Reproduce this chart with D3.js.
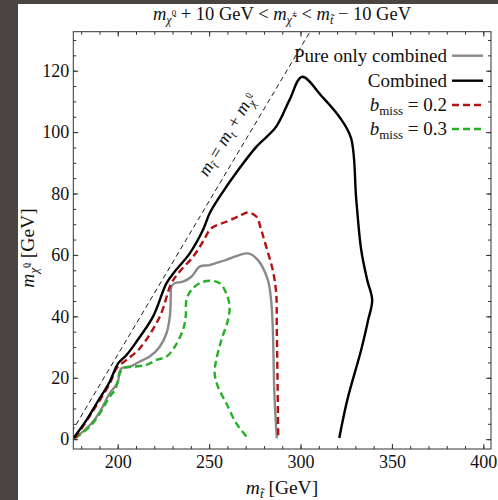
<!DOCTYPE html>
<html>
<head>
<meta charset="utf-8">
<script src="https://cdn.jsdelivr.net/npm/d3@7"></script>
<style>
  body { margin: 0; background: #fff; }
  svg { display: block; }
  text { font-family: "Liberation Serif", "DejaVu Serif", serif; fill: #111; }
</style>
</head>
<body>
<svg id="chart" width="498" height="500"></svg>
<script>
// values (x = stop mass, y = neutralino mass, GeV)
const combinedX = [175.7, 183.0, 188.5, 195.7, 200.2, 204.8, 210.3, 219.3, 226.7, 231.2, 239.4, 246.6, 250.3, 255.8, 266.7, 275.8, 286.7, 294.0, 300.8, 311.9, 321.2, 327.6, 330.5, 333.2, 336.5, 339.2, 337.0, 333.2, 325.6, 321.2];
const combinedY = [0.3, 6.3, 11.7, 18.8, 24.7, 27.4, 31.8, 39.9, 50.8, 54.6, 60.5, 68.1, 73.6, 79.0, 88.3, 95.2, 101.8, 110.5, 118.0, 111.5, 105.0, 98.1, 77.9, 61.6, 51.8, 45.3, 38.8, 29.1, 12.8, 0.4];

const pureX = [176.6, 185.7, 190.3, 195.7, 198.5, 200.2, 200.8, 202.1, 206.6, 212.1, 217.5, 223.0, 226.7, 228.5, 229.0, 229.4, 231.2, 235.7, 240.3, 244.8, 250.3, 259.4, 271.2, 276.6, 282.1, 283.9, 284.8, 285.7, 287.0];
const pureY = [0.3, 5.2, 9.0, 15.0, 17.1, 18.8, 21.5, 23.1, 23.6, 25.3, 26.9, 30.1, 34.5, 39.9, 45.3, 49.7, 50.8, 51.3, 52.9, 56.2, 56.7, 58.4, 60.5, 58.4, 51.9, 45.3, 36.7, 15.0, 0.3];

const bmiss02X = [176.6, 185.7, 195.7, 199.4, 204.8, 212.1, 223.0, 229.4, 233.9, 241.2, 246.6, 251.2, 259.4, 266.6, 271.2, 275.8, 278.5, 281.2, 284.8, 286.7, 287.0, 287.4, 287.8];
const bmiss02Y = [0.3, 8.5, 18.2, 23.1, 25.8, 29.6, 39.9, 50.8, 54.6, 59.4, 64.3, 68.7, 70.8, 72.7, 73.8, 72.5, 68.1, 62.7, 55.1, 47.5, 36.7, 20.4, 0.3];

const bmiss03X = [176.6, 184.8, 190.3, 195.7, 198.5, 200.2, 201.2, 203.0, 208.4, 215.7, 221.2, 226.7, 231.2, 235.7, 237.2, 237.6, 240.3, 244.8, 250.3, 255.8, 259.4, 261.2, 260.3, 256.7, 253.9, 253.0, 254.8, 259.4, 264.8, 271.2];
const bmiss03Y = [0.3, 4.1, 8.5, 13.9, 16.0, 19.3, 21.5, 23.1, 23.6, 24.2, 25.8, 26.9, 30.1, 35.6, 39.9, 45.3, 48.6, 50.8, 51.6, 50.8, 47.5, 43.2, 38.8, 32.3, 25.8, 21.5, 17.1, 11.7, 5.2, 0.3];

const topMass = 172.5;
const xTicks = [200, 250, 300, 350, 400];
const yTicks = [0, 20, 40, 60, 80, 100, 120];
const legendNames = ["Pure only combined", "Combined", "b_miss = 0.2", "b_miss = 0.3"];

const svg = d3.select("#chart");
const x = d3.scaleLinear().domain([175.7, 404.2]).range([73.3, 491]);
const y = d3.scaleLinear().domain([-3.2, 132.7]).range([449, 31.7]);
const [x0, x1] = x.range();
const [y0, y1] = y.range();

svg.append("rect").attr("width", 498).attr("height", 500).attr("fill", "#fff");
svg.append("rect").attr("width", 18).attr("height", 500).attr("fill", "#4a4541");
svg.append("rect").attr("width", 498).attr("height", 4).attr("fill", "#4a4541");

// adds a run of text pieces: [text, italic?, shift in px (neg = up), size]
function rich(sel, parts, size) {
  let cur = 0;
  parts.forEach(p => {
    const shift = p[2] || 0;
    sel.append("tspan")
      .attr("dy", shift - cur)
      .style("font-style", p[1] ? "italic" : "normal")
      .style("font-size", (p[3] || size) + "px")
      .text(p[0]);
    cur = shift;
  });
}

svg.append("defs").append("clipPath").attr("id", "clip")
  .append("rect").attr("x", x0).attr("y", y1).attr("width", x1 - x0).attr("height", y0 - y1);

const plot = svg.append("g").attr("clip-path", "url(#clip)");

// kinematic line m_stop = m_t + m_chi
plot.append("line")
  .attr("x1", x(topMass)).attr("y1", y(0))
  .attr("x2", x(topMass + 140)).attr("y2", y(140))
  .attr("stroke", "#000").attr("stroke-width", 0.9).attr("stroke-dasharray", "5,3.5");

const line = d3.line().x(d => x(d[0])).y(d => y(d[1])).curve(d3.curveCatmullRom.alpha(0.5));
const series = [
  { xs: pureX, ys: pureY, color: "#8a8a8a", dash: null },
  { xs: combinedX, ys: combinedY, color: "#000", dash: null },
  { xs: bmiss02X, ys: bmiss02Y, color: "#b31212", dash: "7,4" },
  { xs: bmiss03X, ys: bmiss03Y, color: "#25b025", dash: "7,4" }
];
[series[0], series[3], series[2], series[1]].forEach(s => {
  plot.append("path")
    .datum(s.xs.map((v, i) => [v, s.ys[i]]))
    .attr("d", line)
    .attr("fill", "none")
    .attr("stroke", s.color)
    .attr("stroke-width", 2.4)
    .attr("stroke-linejoin", "round")
    .attr("stroke-dasharray", s.dash);
});

// diagonal label
const ang = Math.atan2(y(0) - y(100), x(100) - x(0)) * 180 / Math.PI;
const lx = x(topMass + 98) - 15, ly = y(98) - 1;
const diag = svg.append("text")
  .attr("transform", `translate(${lx},${ly}) rotate(${-ang})`)
  .attr("text-anchor", "middle").style("font-size", "18px");
rich(diag, [["m", true], ["t\u0303", true, 4, 12], [" = ", false, 0], ["m", true], ["t", true, 4, 12], [" + ", false, 0], ["m", true], ["\u03c7\u0303", true, 4, 12], ["0", false, -4, 9]], 18);

// axes
function styleAxis(g) {
  g.select(".domain").remove();
  g.selectAll("line").attr("stroke", "#333");
  g.selectAll("text").style("font-family", "Liberation Serif, serif").style("font-size", "18px").attr("fill", "#111");
}
const xMinor = d3.range(180, 401, 10);
const yMinor = d3.range(0, 131, 5);

svg.append("g").attr("transform", `translate(0,${y0})`)
  .call(d3.axisBottom(x).tickValues(xMinor).tickSize(-3).tickFormat("")).call(styleAxis);
svg.append("g").attr("transform", `translate(0,${y0})`)
  .call(d3.axisBottom(x).tickValues(xTicks).tickSize(-5).tickPadding(6)).call(styleAxis);
svg.append("g").attr("transform", `translate(0,${y1})`)
  .call(d3.axisTop(x).tickValues(xMinor).tickSize(-3).tickFormat("")).call(styleAxis);
svg.append("g").attr("transform", `translate(0,${y1})`)
  .call(d3.axisTop(x).tickValues(xTicks).tickSize(-5).tickFormat("")).call(styleAxis);

svg.append("g").attr("transform", `translate(${x0},0)`)
  .call(d3.axisLeft(y).tickValues(yMinor).tickSize(-3).tickFormat("")).call(styleAxis);
svg.append("g").attr("transform", `translate(${x0},0)`)
  .call(d3.axisLeft(y).tickValues(yTicks).tickSize(-5).tickPadding(4)).call(styleAxis);
svg.append("g").attr("transform", `translate(${x1},0)`)
  .call(d3.axisRight(y).tickValues(yMinor).tickSize(-3).tickFormat("")).call(styleAxis);
svg.append("g").attr("transform", `translate(${x1},0)`)
  .call(d3.axisRight(y).tickValues(yTicks).tickSize(-5).tickFormat("")).call(styleAxis);

svg.append("rect")
  .attr("x", x0).attr("y", y1).attr("width", x1 - x0).attr("height", y0 - y1)
  .attr("fill", "none").attr("stroke", "#333").attr("stroke-width", 1);

// title
const title = svg.append("text").attr("x", 282).attr("y", 20)
  .attr("text-anchor", "middle").style("font-size", "18.5px");
rich(title, [["m", true], ["\u03c7\u0303", true, 4, 12], ["0", false, -4, 9], [" + 10 GeV < ", false, 0], ["m", true], ["\u03c7\u0303", true, 4, 12], ["\u00b1", false, -4, 9], [" < ", false, 0], ["m", true], ["t\u0303", true, 4, 12], [" \u2212 10 GeV", false, 0]], 18.5);

// axis labels
const xl = svg.append("text").attr("x", 282).attr("y", 494)
  .attr("text-anchor", "middle").style("font-size", "19.5px");
rich(xl, [["m", true], ["t\u0303", true, 4, 13], [" [GeV]", false, 0]], 19.5);

const yl = svg.append("text").attr("transform", "translate(34,248) rotate(-90)")
  .attr("text-anchor", "middle").style("font-size", "19.5px");
rich(yl, [["m", true], ["\u03c7\u0303", true, 4, 13], ["0", false, -4, 9.5], [" [GeV]", false, 0]], 19.5);

// legend
const legY = [55.7, 80.7, 105, 129];
const legendItems = [series[0], series[1], series[2], series[3]];
legendItems.forEach((s, i) => {
  const t = svg.append("text").attr("x", 447).attr("y", legY[i] + 6)
    .attr("text-anchor", "end").style("font-size", "19px");
  if (i < 2) rich(t, [[legendNames[i], false]], 19);
  else {
    const val = legendNames[i].split(" = ")[1];
    rich(t, [["b", true], ["miss", false, 4, 13], [" = " + val, false, 0]], 19);
  }
  svg.append("line")
    .attr("x1", 452).attr("x2", 483).attr("y1", legY[i]).attr("y2", legY[i])
    .attr("stroke", s.color).attr("stroke-width", 2.4).attr("stroke-dasharray", s.dash);
});
</script>
</body>
</html>
